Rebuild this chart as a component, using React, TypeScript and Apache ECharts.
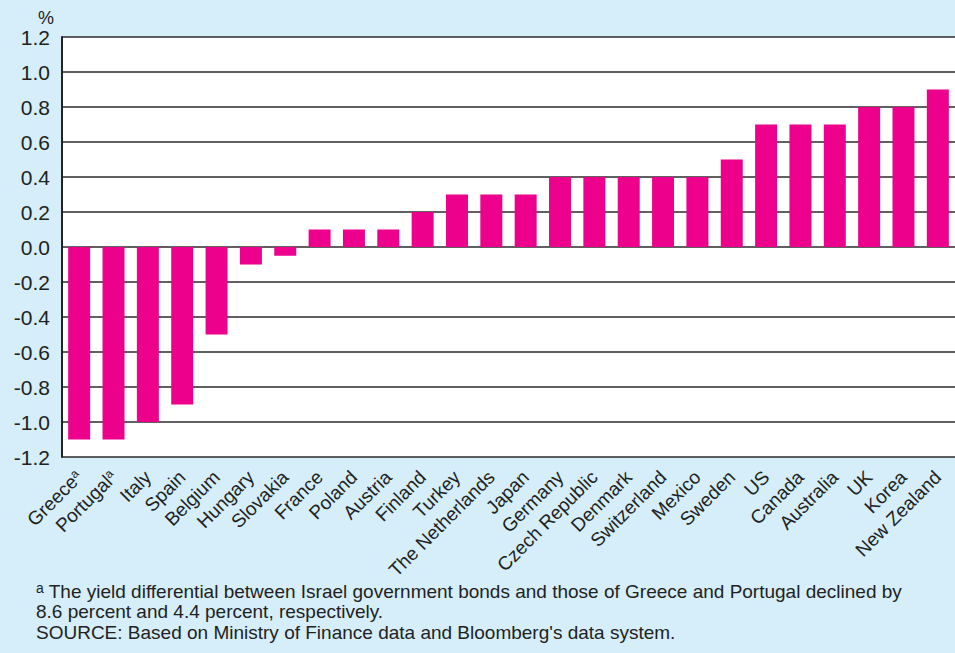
import React, { useEffect, useRef } from "react";
import * as echarts from "echarts";

const categories = [
  "Greece", "Portugal", "Italy", "Spain", "Belgium", "Hungary", "Slovakia", "France",
  "Poland", "Austria", "Finland", "Turkey", "The Netherlands", "Japan", "Germany",
  "Czech Republic", "Denmark", "Switzerland", "Mexico", "Sweden", "US", "Canada",
  "Australia", "UK", "Korea", "New Zealand",
];
const footnoted = ["Greece", "Portugal"];
const values = [
  -1.1, -1.1, -1.0, -0.9, -0.5, -0.1, -0.05, 0.1, 0.1, 0.1, 0.2, 0.3, 0.3, 0.3, 0.4,
  0.4, 0.4, 0.4, 0.4, 0.5, 0.7, 0.7, 0.7, 0.8, 0.8, 0.9,
];
const yMin = -1.2;
const yMax = 1.2;
const yStep = 0.2;
const unitLabel = "%";
const footnoteLine1 = " The yield differential between Israel government bonds and those of Greece and Portugal declined by";
const footnoteLine2 = "8.6 percent and 4.4 percent, respectively.";
const sourceLine = "SOURCE: Based on Ministry of Finance data and Bloomberg's data system.";

const FONT = "'Liberation Sans', Arial, sans-serif";

export default function App() {
  const ref = useRef<HTMLDivElement>(null);
  useEffect(() => {
    if (!ref.current) return;
    const chart = echarts.init(ref.current, undefined, { renderer: "svg" });
    chart.setOption({
      animation: false,
      backgroundColor: "#d5eefa",
      grid: { left: 62, right: 0, top: 37, bottom: 196, containLabel: false,
        show: true, backgroundColor: "#ffffff", borderWidth: 0 },
      xAxis: {
        type: "category",
        data: categories,
        axisLine: { show: false },
        axisTick: { show: false },
        axisLabel: {
          interval: 0,
          rotate: 45,
          margin: 17,
          fontFamily: FONT,
          fontSize: 19,
          color: "#222",
          formatter: (v: string) => (footnoted.includes(v) ? `${v}{sup|a}` : v),
          rich: {
            sup: { fontSize: 12, fontFamily: FONT, color: "#222", verticalAlign: "top", padding: [0, 0, 7, 0] },
          },
        },
      },
      yAxis: {
        type: "value",
        min: yMin,
        max: yMax,
        interval: yStep,
        name: unitLabel,
        nameLocation: "end",
        nameGap: 9,
        nameTextStyle: { fontFamily: FONT, fontSize: 18, color: "#222", align: "right", padding: [0, 8, 0, 0] },
        axisLine: { show: true, lineStyle: { color: "#222", width: 2 } },
        axisTick: { show: false },
        axisLabel: {
          fontFamily: FONT,
          fontSize: 21,
          color: "#222",
          margin: 12,
          formatter: (v: number) => v.toFixed(1),
        },
        splitLine: { show: true, lineStyle: { color: "#2b2b2b", width: 1.5 } },
      },
      series: [
        {
          type: "bar",
          data: values,
          barCategoryGap: "36%",
          itemStyle: { color: "#ec008c" },
        },
      ],
      graphic: [
        {
          type: "text",
          left: 36,
          top: 581,
          style: {
            text: `{sup|a}{t|${footnoteLine1}}\n{t|${footnoteLine2}}\n{t|${sourceLine}}`,
            rich: {
              sup: { fontSize: 14, fontFamily: FONT, fill: "#222", verticalAlign: "top", lineHeight: 20.5 },
              t: { fontSize: 19, fontFamily: FONT, fill: "#222", lineHeight: 20.5 },
            },
          },
        },
      ],
    });
    return () => chart.dispose();
  }, []);
  return <div ref={ref} style={{ width: 955, height: 653, position: "absolute", left: 0, top: 0 }} />;
}
